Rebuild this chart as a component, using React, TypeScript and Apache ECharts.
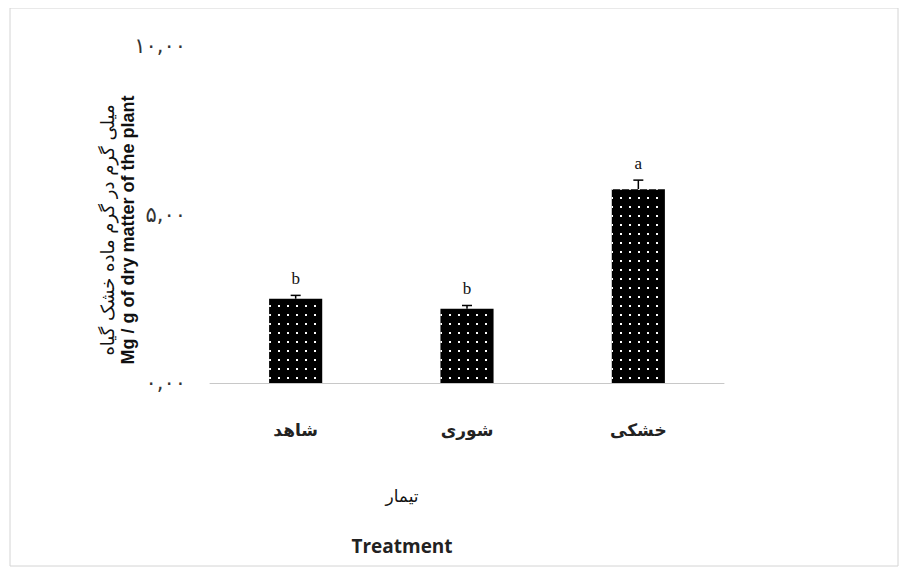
import { useEffect, useRef } from 'react'
import * as echarts from 'echarts'

const categories = ['شاهد', 'شوری', 'خشکی']
const values = [2.5, 2.2, 5.75]
const errors = [0.1, 0.1, 0.27]
const letters = ['b', 'b', 'a']
const yTicks = ['۰,۰۰', '۵,۰۰', '۱۰,۰۰']

export default function App() {
  const chartRef = useRef<HTMLDivElement>(null)

  useEffect(() => {
    if (!chartRef.current) return
    const chart = echarts.init(chartRef.current, undefined, { renderer: 'svg' })

    const option: any = {
      animation: false,
      grid: { left: 202, right: 177, top: 38, bottom: 184 },
      xAxis: {
        type: 'category',
        data: categories,
        axisLine: { lineStyle: { color: '#c8c8c8', width: 1 } },
        axisTick: { show: false },
        axisLabel: { color: '#222', fontSize: 17, fontFamily: 'DejaVu Sans', margin: 38, fontWeight: 'bold' }
      },
      yAxis: {
        type: 'value',
        min: 0,
        max: 10,
        interval: 5,
        splitLine: { show: false },
        axisLine: { show: false },
        axisLabel: {
          color: '#333',
          fontSize: 21,
          fontFamily: 'DejaVu Sans',
          margin: 24,
          formatter: (v: number) => yTicks[v / 5]
        }
      },
      graphic: [
        { type: 'rect', shape: { x: 2, y: 0, width: 888, height: 558 }, style: { fill: 'none', stroke: '#d4d4d4', lineWidth: 1 } },
        { type: 'text', x: 99, y: 222, rotation: Math.PI / 2, style: { text: 'میلی گرم در گرم ماده خشک گیاه', font: '18px "DejaVu Sans"', fill: '#111', align: 'center', verticalAlign: 'middle' } },
        { type: 'text', x: 120, y: 222, rotation: Math.PI / 2, style: { text: 'Mg / g of dry matter of the plant', font: 'bold 18px "Liberation Sans"', fill: '#111', align: 'center', verticalAlign: 'middle' } },
        { type: 'text', x: 394, y: 488, style: { text: 'تیمار', font: '17px "DejaVu Sans"', fill: '#111', align: 'center', verticalAlign: 'middle' } },
        { type: 'text', x: 394, y: 538, style: { text: 'Treatment', font: 'bold 19px "Open Sans"', fill: '#222', align: 'center', verticalAlign: 'middle' } }
      ],
      series: [
        {
          type: 'bar',
          data: values,
          barWidth: '31%',
          itemStyle: {
            color: '#000',
            decal: {
              symbol: 'rect',
              symbolSize: 1,
              color: '#ffffff',
              backgroundColor: '#000',
              dashArrayX: [1.5, 6.5],
              dashArrayY: [1.5, 6.5]
            }
          }
        },
        {
          type: 'custom',
          data: values.map((v, i) => [i, v, errors[i]]),
          renderItem: (params: any, api: any) => {
            const i = api.value(0)
            const v = api.value(1)
            const e = api.value(2)
            const top = api.coord([i, v + e])
            const base = api.coord([i, v])
            return {
              type: 'group',
              children: [
                { type: 'line', shape: { x1: top[0], y1: top[1], x2: base[0], y2: base[1] }, style: { stroke: '#000', lineWidth: 1.5 } },
                { type: 'line', shape: { x1: top[0] - 5, y1: top[1], x2: top[0] + 5, y2: top[1] }, style: { stroke: '#000', lineWidth: 1.5 } },
                { type: 'text', x: top[0], y: top[1] - 8, style: { text: letters[params.dataIndex], font: '17px "Liberation Serif"', fill: '#111', align: 'center', verticalAlign: 'bottom' } }
              ]
            }
          }
        }
      ]
    }

    chart.setOption(option)
    return () => chart.dispose()
  }, [])

  return <div ref={chartRef} style={{ width: 893, height: 559 }} />
}
